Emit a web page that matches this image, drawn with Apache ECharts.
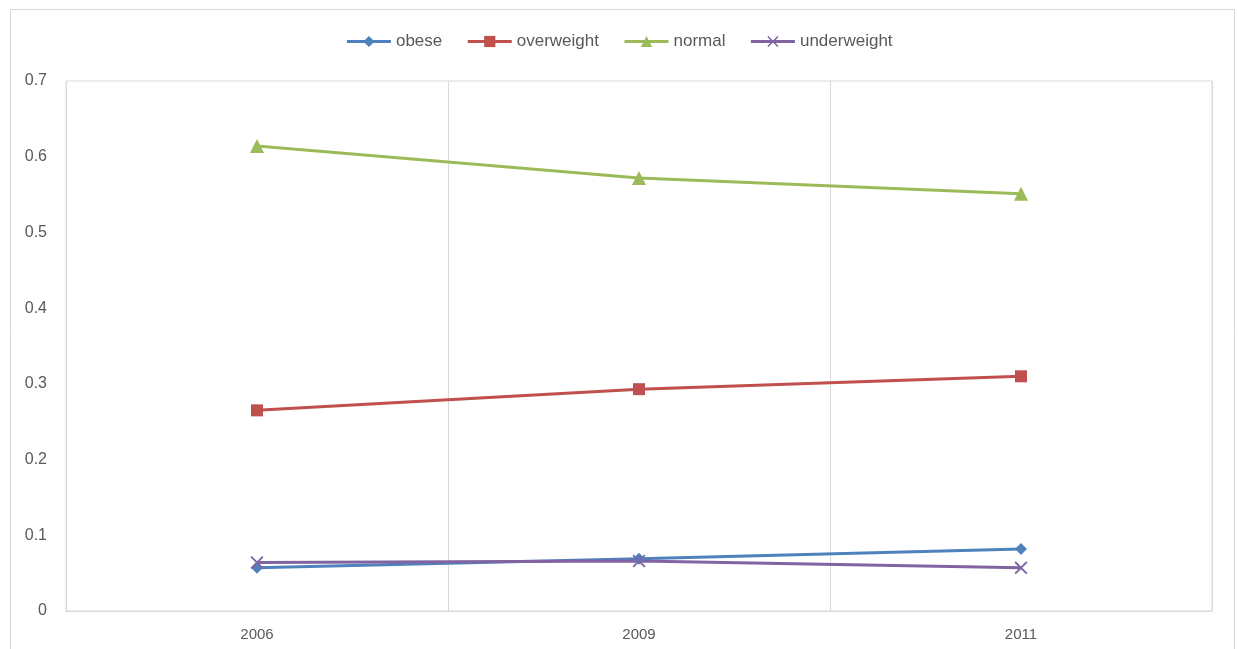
<!DOCTYPE html>
<html>
<head>
<meta charset="utf-8">
<script src="https://cdn.jsdelivr.net/npm/echarts@6/dist/echarts.min.js"></script>
<style>
  html, body { margin: 0; padding: 0; background: #fff; }
  #container1 { width: 1238px; height: 649px; }
</style>
</head>
<body>
<div id="container1"></div>
<script>
var years = ['2006', '2009', '2011'];
var obese = [0.057, 0.069, 0.082];
var overweight = [0.265, 0.293, 0.310];
var normal = [0.614, 0.572, 0.551];
var underweight = [0.064, 0.066, 0.057];
var yTicks = [0, 0.7, 0.1]; // min, max, interval

var dom = document.getElementById("container1");
var myChart = echarts.init(dom);

var crossPath = 'path://M1,0 L5,4 L9,0 L10,1 L6,5 L10,9 L9,10 L5,6 L1,10 L0,9 L4,5 L0,1 Z';

function mkSeries(name, data, color, symbol, size) {
    return {
        name: name,
        type: 'line',
        data: data,
        symbol: symbol,
        symbolSize: size,
        showSymbol: true,
        lineStyle: { color: color, width: 3 },
        itemStyle: { color: color },
        emphasis: { disabled: true }
    };
}

var option = {
    animation: false,
    textStyle: { fontFamily: 'Liberation Sans, Noto Sans, sans-serif' },
    graphic: [{
        type: 'rect',
        shape: { x: 10.5, y: 9.5, width: 1224, height: 660 },
        style: { fill: 'none', stroke: '#d9d9d9', lineWidth: 1 },
        silent: true
    }],
    legend: {
        top: 28,
        left: 'center',
        itemWidth: 44,
        itemHeight: 14,
        itemGap: 24,
        lineStyle: { width: 3 },
        textStyle: { color: '#595959', fontSize: 17 },
        data: ['obese', 'overweight', 'normal', 'underweight']
    },
    grid: {
        left: 66, right: 26, top: 81, bottom: 38,
        show: true,
        borderColor: '#d9d9d9',
        borderWidth: 1
    },
    xAxis: {
        type: 'category',
        data: years,
        boundaryGap: true,
        axisLine: { show: true, lineStyle: { color: '#d9d9d9' } },
        axisTick: { show: false },
        axisLabel: { color: '#595959', fontSize: 15, margin: 16 },
        splitLine: { show: true, lineStyle: { color: '#d9d9d9', width: 1 } }
    },
    yAxis: {
        type: 'value',
        min: yTicks[0],
        max: yTicks[1],
        interval: yTicks[2],
        axisLine: { show: false },
        axisTick: { show: false },
        splitLine: { show: false },
        axisLabel: { color: '#595959', fontSize: 16, margin: 19 }
    },
    series: [
        mkSeries('obese', obese, '#4F81BD', 'diamond', 12),
        mkSeries('overweight', overweight, '#C0504D', 'rect', 12),
        mkSeries('normal', normal, '#9BBB59', 'triangle', 14),
        mkSeries('underweight', underweight, '#8064A2', crossPath, 13)
    ]
};

if (option && typeof option === "object") {
    myChart.setOption(option, true);
}
</script>
</body>
</html>
